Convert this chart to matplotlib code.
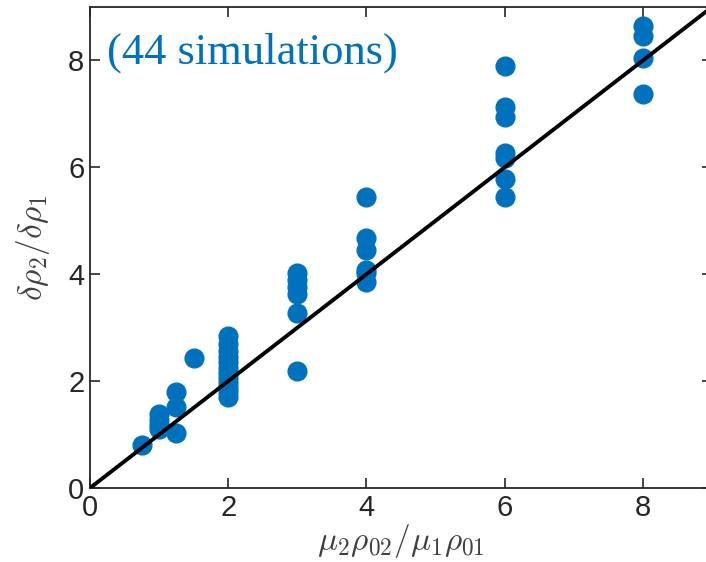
import matplotlib.pyplot as plt

x_vals = [0.75,
          1, 1, 1, 1,
          1.25, 1.25, 1.25,
          1.5,
          2, 2, 2, 2, 2, 2, 2, 2, 2, 2, 2, 2,
          3, 3, 3, 3, 3, 3,
          4, 4, 4, 4, 4, 4,
          6, 6, 6, 6, 6, 6, 6,
          8, 8, 8, 8]
y_vals = [0.80,
          1.38, 1.28, 1.18, 1.10,
          1.79, 1.51, 1.02,
          2.43,
          2.84, 2.70, 2.56, 2.45, 2.35, 2.25, 2.15, 2.05, 1.97, 1.88, 1.80, 1.71,
          4.03, 3.90, 3.77, 3.63, 3.27, 2.18,
          5.44, 4.68, 4.45, 4.08, 4.02, 3.85,
          7.90, 7.12, 6.94, 6.26, 6.17, 5.79, 5.44,
          8.65, 8.45, 8.05, 7.38]
ref_line = [0, 9]
ticks = [0, 2, 4, 6, 8]

plt.rcParams['mathtext.fontset'] = 'cm'
plt.rcParams['font.family'] = ['Liberation Sans', 'DejaVu Sans']

fig = plt.figure(figsize=(7.06, 5.62), dpi=100)
ax = fig.add_axes([90 / 706, 74 / 562, 622 / 706, 481 / 562])

ax.plot(x_vals, y_vals, 'o', color='#0072BD', markersize=13.5, zorder=2)
ax.plot(ref_line, ref_line, color='black', linewidth=2.8, zorder=3)

ax.set_xlim(0, 9)
ax.set_ylim(0, 9)
ax.set_xticks(ticks)
ax.set_yticks(ticks)
ax.tick_params(direction='in', length=7, width=1.2, top=True, right=True,
               labelsize=21, colors='#262626', pad=4)
for s in ax.spines.values():
    s.set_color('#262626')
    s.set_linewidth(1.3)

ax.set_xlabel(r'$\mu_2\rho_{02}/\mu_1\rho_{01}$', fontsize=24, color='#404040', labelpad=0)
ax.set_ylabel(r'$\delta\rho_2/\delta\rho_1$', fontsize=24, color='#404040', labelpad=12)

ax.text(0.25, 7.95, '(44 simulations)', family=['Liberation Serif', 'DejaVu Serif'],
        fontsize=32, color='#0072BD', va='baseline')

fig.savefig('out.png', dpi=100)
